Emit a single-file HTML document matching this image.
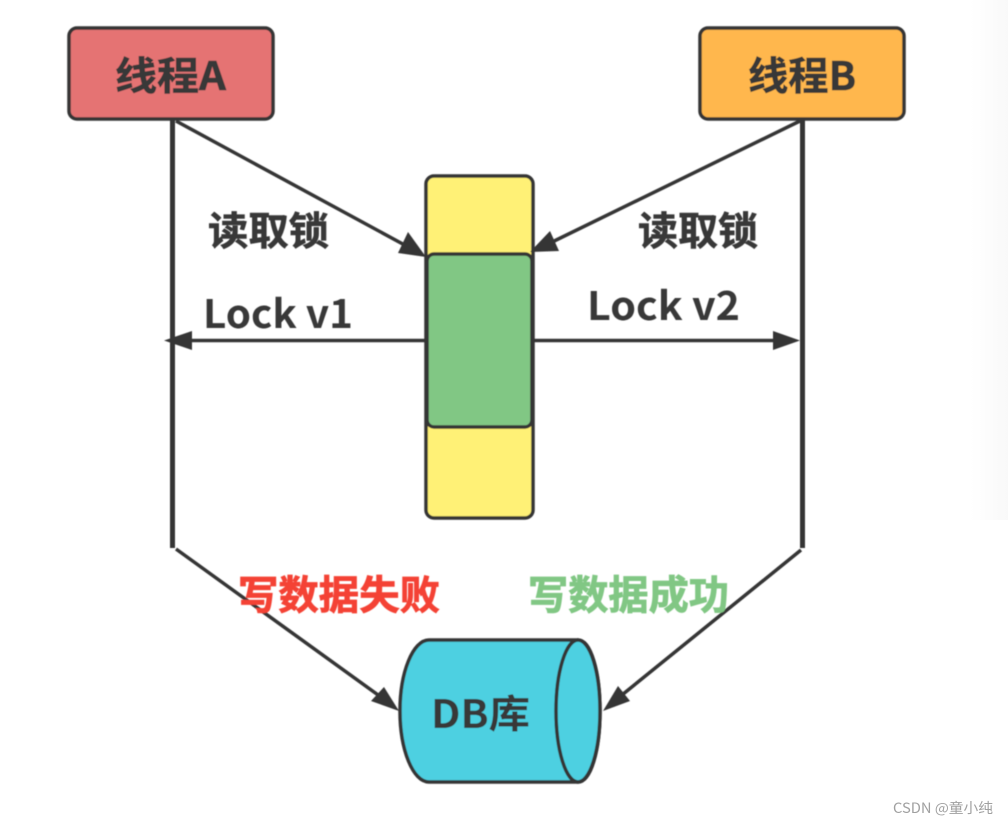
<!DOCTYPE html>
<html lang="zh">
<head>
<meta charset="utf-8">
<style>
html,body{margin:0;padding:0;background:#fff}
svg{display:block}
text{font-family:"Noto Sans CJK SC","Liberation Sans",sans-serif;font-weight:700;fill:#383838}
</style>
</head>
<body>
<svg width="1008" height="824" viewBox="0 0 1008 824" xmlns="http://www.w3.org/2000/svg">
<defs>
<linearGradient id="edge" x1="0" x2="1" y1="0" y2="0">
<stop offset="0" stop-color="#fff"/>
<stop offset="1" stop-color="#f9f9f9"/>
</linearGradient>
<filter id="soft" x="-5%" y="-5%" width="110%" height="110%"><feGaussianBlur stdDeviation="0.6"/></filter>
</defs>
<rect width="1008" height="824" fill="#fff"/>
<rect x="970" y="0" width="38" height="520" fill="url(#edge)"/>
<g filter="url(#soft)">
<!-- thread boxes -->
<rect x="69" y="28" width="204" height="91" rx="8" fill="#e57373" stroke="#363636" stroke-width="3.500"/>
<rect x="700" y="28" width="204" height="91" rx="8" fill="#ffb74d" stroke="#363636" stroke-width="3.500"/>
<!-- lifelines -->
<line x1="172.500" y1="120" x2="172.500" y2="548" stroke="#363636" stroke-width="5"/>
<line x1="802.500" y1="120" x2="802.500" y2="548" stroke="#363636" stroke-width="5"/>
<!-- lock column -->
<rect x="426" y="176" width="107" height="342" rx="8" fill="#fff176" stroke="#363636" stroke-width="3.500"/>
<rect x="427" y="254" width="105" height="173" rx="7" fill="#81c784" stroke="#363636" stroke-width="3.500"/>
<!-- read connectors -->
<line x1="176" y1="121" x2="412" y2="249" stroke="#363636" stroke-width="3.500"/>
<polygon points="426,257 398,253 408,232" fill="#363636"/>
<line x1="800" y1="121" x2="544" y2="246" stroke="#363636" stroke-width="3.500"/>
<polygon points="530,252 550,231 559,251" fill="#363636"/>
<!-- lock connectors -->
<line x1="426" y1="340.500" x2="185" y2="340.500" stroke="#363636" stroke-width="3.500"/>
<polygon points="164,340.500 192,331 192,350" fill="#363636"/>
<line x1="533" y1="340.500" x2="780" y2="340.500" stroke="#363636" stroke-width="3.500"/>
<polygon points="800,340.500 773,331 773,350" fill="#363636"/>
<!-- write connectors -->
<line x1="176" y1="549" x2="385" y2="700" stroke="#363636" stroke-width="3.500"/>
<polygon points="399,711 371,701 384,687" fill="#363636"/>
<line x1="801" y1="550" x2="617" y2="699" stroke="#363636" stroke-width="3.500"/>
<polygon points="603,711 618,686 630,701" fill="#363636"/>
<!-- cylinder -->
<path d="M429,640 H578 C591,640 600,672 600,711 C600,750 591,782 578,782 H429 C413,782 400,750 400,711 C400,672 413,640 429,640 Z" fill="#4dd0e1" stroke="#363636" stroke-width="3.500"/>
<ellipse cx="578" cy="711" rx="22" ry="71" fill="#4dd0e1" stroke="#363636" stroke-width="3.500"/>
<!-- labels -->
<text x="115" y="90" font-size="39" textLength="111" lengthAdjust="spacingAndGlyphs" stroke="#383838" stroke-width=".6">线程A</text>
<text x="748" y="90" font-size="39" textLength="108" lengthAdjust="spacingAndGlyphs" stroke="#383838" stroke-width=".6">线程B</text>
<text x="208" y="245" font-size="39" textLength="121" lengthAdjust="spacingAndGlyphs" stroke="#383838" stroke-width=".6">读取锁</text>
<text x="638" y="245" font-size="39" textLength="120" lengthAdjust="spacingAndGlyphs" stroke="#383838" stroke-width=".6">读取锁</text>
<text x="203" y="328" font-size="39" textLength="150" lengthAdjust="spacingAndGlyphs">Lock v1</text>
<text x="587" y="320" font-size="39" textLength="153" lengthAdjust="spacingAndGlyphs">Lock v2</text>
<text x="238" y="609" font-size="40" textLength="202" lengthAdjust="spacingAndGlyphs" style="fill:#f44336" stroke="#f44336" stroke-width=".8">写数据失败</text>
<text x="528" y="609" font-size="40" textLength="201" lengthAdjust="spacingAndGlyphs" style="fill:#81c784" stroke="#81c784" stroke-width=".8">写数据成功</text>
<text x="431" y="728" font-size="39" textLength="99" lengthAdjust="spacingAndGlyphs">DB库</text>
</g>
<text x="893" y="813" font-size="14" textLength="100" lengthAdjust="spacingAndGlyphs" style="fill:#a0a0a0;font-weight:400">CSDN @童小纯</text>
</svg>
</body>
</html>
